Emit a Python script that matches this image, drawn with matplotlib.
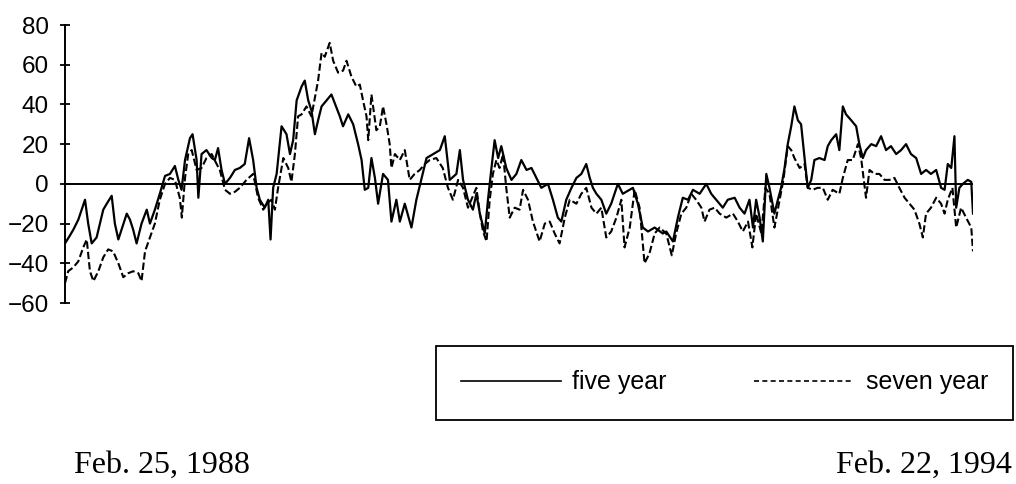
import matplotlib
matplotlib.use("Agg")
import matplotlib.pyplot as plt
from matplotlib.lines import Line2D

# Spread (basis points) over Feb. 1988 - Feb. 1994; x is the week number.
five_weeks = [
    0, 1.7, 2.9, 4.6, 6.9, 8.0, 9.2, 10.9, 13.2, 14.4, 16.1, 17.2, 18.4, 19.5,
    21.3, 22.4, 23.5, 24.7, 26.4, 28.2, 29.3, 31.0, 32.7, 34.5, 36.2, 37.9,
    39.1, 40.2, 41.4, 43.1, 44.0, 45.4, 46.0, 47.1, 48.8, 50.6, 51.7, 52.8,
    54.0, 55.2, 56.9, 58.6, 60.3, 62.0, 63.5, 64.9, 66.1, 67.2, 68.9, 70.1,
    70.9, 71.8, 73.0, 74.7, 76.4, 77.6, 78.7, 79.9, 81.6, 82.7, 83.9, 85.0,
    86.2, 87.3, 88.5, 90.2, 91.9, 94.8, 95.9, 97.7, 99.4, 101.1, 102.3, 103.4,
    104.6, 105.7, 106.9, 108.0, 109.7, 111.4, 112.6, 114.3, 115.5, 117.2,
    119.5, 121.2, 124.7, 127.0, 129.3, 131.0, 132.7, 135.0, 136.2, 137.3,
    139.0, 140.7, 141.9, 143.1, 144.8, 145.9, 147.1, 148.2, 149.4, 150.5,
    152.2, 154.0, 155.7, 157.4, 159.2, 160.9, 162.6, 164.3, 166.6, 168.3,
    170.0, 171.2, 172.9, 174.7, 176.4, 178.1, 179.8, 181.0, 182.1, 183.3,
    185.0, 186.7, 188.4, 190.7, 192.4, 195.9, 197.6, 199.3, 201.1, 203.4,
    206.2, 207.4, 209.7, 211.4, 213.1, 214.9, 216.6, 218.9, 221.2, 222.9,
    224.6, 226.9, 228.6, 231.0, 232.7, 234.4, 236.1, 237.3, 238.4, 239.6,
    240.7, 241.9, 243.0, 244.7, 245.9, 247.0, 248.2, 249.3, 250.5, 251.6,
    252.8, 253.9, 255.1, 256.2, 257.4, 258.5, 260.2, 262.0, 263.1, 264.3,
    266.0, 267.1, 268.3, 269.4, 271.2, 272.9, 274.0, 275.2, 276.3, 278.1,
    279.8, 281.5, 283.2, 284.9, 286.7, 288.4, 290.1, 291.8, 293.6, 295.3,
    297.0, 298.7, 300.5, 302.2, 303.4, 304.5, 305.7, 306.8, 307.4, 308.5,
    309.7, 311.4, 312.6, 313.2,
]
five_values = [
    -30, -26, -23, -18, -8, -20, -30, -27, -13, -10, -6, -20, -28, -23,
    -15, -18, -23, -30, -20, -13, -20, -13, -5, 4, 5, 9,
    2, -3, 12, 23, 25, 12, -7, 15, 17, 13, 12, 18,
    7, 0, 3, 7, 8, 10, 23, 12, -2, -8, -12, -8,
    -28, -2, 5, 29, 25, 15, 22, 42, 49, 52, 42, 37,
    25, 32, 39, 42, 45, 34, 29, 35, 30, 20, 12, -3,
    -2, 13, 3, -10, 5, 2, -19, -8, -19, -10,
    -22, -8, 13, 15, 17, 24, 2, 5, 17, 2,
    -8, -13, -5, -15, -25, -8, 8, 22, 13, 19,
    8, 2, 5, 12, 7, 8, 3, -2, 0, -8,
    -17, -19, -8, -2, 3, 5, 10, 3, -2, -5,
    -8, -15, -10, 0, -5, -2, -10, -22, -24, -22,
    -25, -24, -29, -17, -7, -8, -3, -5, 0, -5,
    -8, -12, -8, -7, -12, -15, -8, -22, -8, -17,
    -29, 5, -2, -15, -8, -2, 8, 20, 29, 39,
    32, 30, 13, -2, 2, 12, 13, 12, 19, 22,
    25, 17, 39, 35, 32, 29, 20, 13, 17, 20,
    19, 24, 17, 19, 15, 17, 20, 15, 13, 5,
    7, 5, 7, -2, -3, 10, 8, 24, -12, -2,
    0, 2, 1, -15,
]

seven_weeks = [
    0, 1.1, 2.9, 4.6, 6.3, 7.5, 8.6, 9.8, 11.5, 13.2, 14.9, 16.6, 18.4, 20.1,
    21.8, 23.5, 25.3, 26.4, 27.6, 29.3, 31.0, 32.7, 34.5, 36.2, 37.9, 39.6,
    40.3, 41.4, 42.5, 43.7, 45.4, 47.1, 48.8, 50.6, 52.3, 53.4, 55.2, 56.9,
    58.6, 60.3, 62.6, 64.9, 66.6, 68.4, 69.5, 71.2, 72.4, 73.5, 75.3, 77.0,
    78.1, 79.3, 80.4, 81.6, 83.3, 85.0, 87.3, 88.5, 89.6, 91.3, 92.5, 94.2,
    95.9, 97.1, 98.8, 100.5, 101.7, 102.8, 104.0, 104.6, 105.7, 107.4, 108.6,
    109.7, 110.9, 112.0, 112.6, 113.8, 115.5, 117.2, 118.9, 120.6, 122.4,
    124.1, 125.8, 128.1, 130.3, 132.1, 133.8, 135.6, 137.3, 139.0, 141.9,
    143.1, 144.2, 145.4, 146.5, 147.6, 148.8, 149.9, 151.1, 152.2, 153.4,
    155.1, 156.8, 158.0, 159.7, 161.4, 163.7, 165.5, 167.2, 168.9, 170.6,
    172.4, 174.1, 176.4, 178.1, 179.8, 181.6, 183.3, 185.0, 186.7, 188.4,
    190.2, 191.9, 193.0, 194.8, 196.5, 198.2, 199.9, 201.6, 203.4, 205.1,
    207.4, 209.3, 210.8, 212.6, 214.3, 216.0, 217.7, 219.5, 220.6, 222.3,
    224.1, 225.8, 228.1, 230.4, 232.1, 233.8, 235.6, 237.1, 238.4, 240.2,
    241.6, 243.0, 244.7, 246.5, 247.8, 249.3, 250.5, 251.6, 253.4, 255.1,
    256.2, 257.9, 259.6, 261.4, 263.1, 264.8, 267.1, 268.3, 270.0, 271.7,
    273.5, 274.6, 276.3, 277.5, 279.2, 280.9, 282.7, 284.4, 286.1, 287.8,
    289.6, 291.3, 293.0, 294.7, 295.9, 297.0, 298.7, 300.5, 302.2, 303.4,
    304.5, 306.1, 307.4, 309.1, 310.8, 312.6, 313.2,
]
seven_values = [
    -50, -44, -42, -39, -32, -28, -44, -49, -44, -37, -33, -34, -40, -47,
    -45, -44, -45, -49, -34, -27, -20, -8, 0, 3, 2, -7,
    -17, 3, 15, 17, 7, 8, 13, 15, 10, 7, -3, -5,
    -4, -2, 2, 5, -7, -13, -10, -8, -13, -2, 13, 8,
    1, 15, 34, 35, 39, 34, 52, 66, 64, 71, 62, 56,
    57, 62, 54, 49, 50, 42, 34, 22, 45, 27, 29,
    39, 30, 20, 8, 15, 12, 17, 2, 5, 7,
    10, 12, 13, 8, -2, -8, 2, -2, -12, -2,
    -15, -24, -29, -8, 5, 12, 8, 15, -2, -17,
    -12, -13, -3, -8, -19, -29, -20, -19, -25, -30,
    -17, -8, -10, -5, -2, -12, -15, -12, -27, -24,
    -17, -8, -32, -22, -3, -12, -40, -35, -25, -22,
    -25, -36, -25, -15, -12, -5, -8, -12, -19, -13,
    -12, -15, -17, -15, -19, -24, -19, -32, -15, -25,
    -2, -5, -22, -8, 2, 19, 17, 13, 8, 10,
    -2, -3, -2, -2, -8, -3, -5, 3, 12, 12,
    20, 13, -7, 7, 5, 5, 2, 2, 3, -2,
    -7, -10, -13, -20, -27, -15, -12, -7, -10, -15,
    -8, -2, -22, -12, -17, -22, -34,
]

y_ticks = [-60, -40, -20, 0, 20, 40, 60, 80]
series_labels = ["five year", "seven year"]
date_labels = ["Feb. 25, 1988", "Feb. 22, 1994"]

W, H = 1016, 484
fig = plt.figure(figsize=(W / 100, H / 100), dpi=100)
fig.patch.set_facecolor("white")

ax = fig.add_axes([65 / W, 1 - 303 / H, (973 - 65) / W, (303 - 25) / H])
ax.plot(five_weeks, five_values, color="black", lw=1.6)
ax.plot(seven_weeks, seven_values, color="black", lw=1.5, dashes=(3.5, 1.5))
ax.axhline(0, color="black", lw=1.4)

ax.set_xlim(five_weeks[0], five_weeks[-1])
ax.set_ylim(y_ticks[0], y_ticks[-1])
ax.set_yticks(y_ticks)
ax.set_xticks([])
for side in ("top", "right", "bottom"):
    ax.spines[side].set_visible(False)
ax.spines["left"].set_linewidth(1.4)
ax.tick_params(axis="y", direction="inout", length=7, width=1.3,
               labelsize=17.5, pad=8)
for lab in ax.get_yticklabels():
    lab.set_family("Liberation Sans")

# Date annotations under the chart
fig.text(74 / W, 1 - 473 / H, date_labels[0], ha="left", va="baseline",
         family="Liberation Serif", fontsize=23)
fig.text(1012 / W, 1 - 473 / H, date_labels[1], ha="right", va="baseline",
         family="Liberation Serif", fontsize=23)

handles = [Line2D([], [], color="black", lw=1.2),
           Line2D([], [], color="black", lw=1.2, dashes=(3, 2))]
leg = fig.legend(handles, series_labels, loc="center",
                 bbox_to_anchor=(436 / W, 1 - 421 / H, (1013 - 436) / W, (421 - 344) / H),
                 mode="expand", ncol=2, borderaxespad=0, borderpad=1.0,
                 handlelength=4.0, handletextpad=0.45,
                 prop={"family": "Liberation Sans", "size": 18},
                 fancybox=False, framealpha=1, edgecolor="black")
leg.get_frame().set_linewidth(1.3)

fig.savefig("out.png", dpi=100, facecolor="white")
